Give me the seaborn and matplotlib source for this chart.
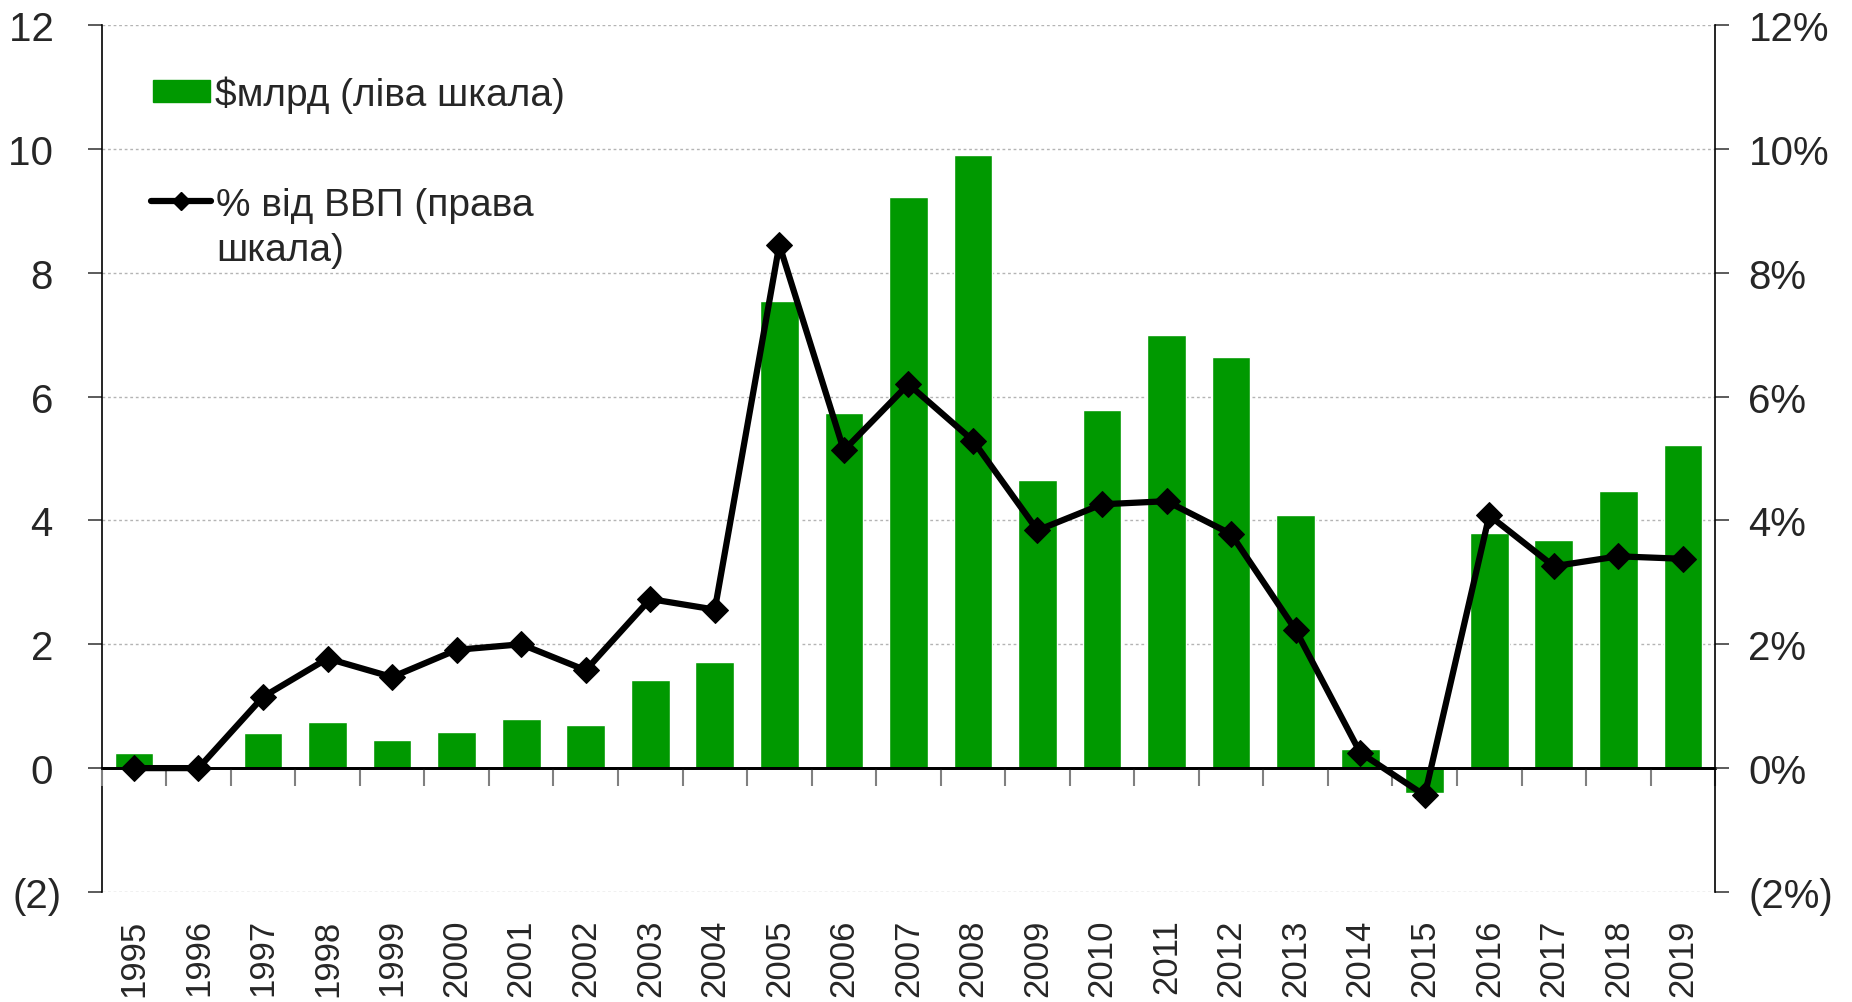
import numpy as np
import pandas as pd
import matplotlib
matplotlib.use("Agg")
import matplotlib.pyplot as plt
import seaborn as sns
from matplotlib.lines import Line2D
from matplotlib.patches import Patch

# data
years = ["1995", "1996", "1997", "1998", "1999", "2000", "2001", "2002", "2003",
         "2004", "2005", "2006", "2007", "2008", "2009", "2010", "2011", "2012",
         "2013", "2014", "2015", "2016", "2017", "2018", "2019"]
fdi_bln = [0.25, 0.0, 0.57, 0.74, 0.46, 0.59, 0.80, 0.69, 1.43, 1.72, 7.54, 5.74,
           9.22, 9.90, 4.66, 5.78, 7.00, 6.64, 4.08, 0.31, -0.40, 3.80, 3.68, 4.47, 5.21]
fdi_gdp = [0.0, 0.0, 1.15, 1.77, 1.47, 1.91, 2.00, 1.58, 2.73, 2.56, 8.45, 5.13,
           6.20, 5.29, 3.84, 4.26, 4.31, 3.78, 2.23, 0.25, -0.44, 4.08, 3.26, 3.42, 3.38]
yticks = [-2, 0, 2, 4, 6, 8, 10, 12]

bar_label = "$млрд (ліва шкала)"
line_label = ["% від ВВП (права", "шкала)"]

green = "#009900"

sns.set_style("white")
plt.rcParams["font.family"] = ["Liberation Sans", "DejaVu Sans"]

df = pd.DataFrame({"year": years, "bln": fdi_bln, "gdp": fdi_gdp})
df["pos"] = np.arange(len(df))

fig = plt.figure(figsize=(18.52, 10.03), dpi=100)
ax = fig.add_axes([0.0549, 0.1097, 0.8712, 0.8644])

sns.barplot(data=df, x="year", y="bln", color=green, saturation=1, width=0.6, ax=ax)
ax.set_xlim(-0.5, len(years) - 0.5)
ax.set_ylim(yticks[0], yticks[-1])
ax.set_xlabel("")
ax.set_ylabel("")

# left axis
ax.set_yticks(yticks)
ax.set_yticklabels([f"({abs(v)})" if v < 0 else f"{v}\u2009" for v in yticks])
ax.tick_params(axis="y", direction="out", length=10, width=1.2, color="#404040",
               pad=19, labelsize=29)
ax.set_xticks(df["pos"])
ax.set_xticklabels(years, rotation=90, va="top", ha="center")
ax.tick_params(axis="x", length=0, pad=19, labelsize=25)
ax.set_axisbelow(True)
ax.yaxis.grid(True, color="#b4b4b4", linestyle=(0, (2, 2)), linewidth=1)
ax.xaxis.grid(False)
for s in ["top", "bottom", "right"]:
    ax.spines[s].set_visible(False)
ax.spines["left"].set_color("black")
ax.spines["left"].set_linewidth(1.2)

# zero line with category boundary ticks
zero_pos = (0 - yticks[0]) / (yticks[-1] - yticks[0])
sec = ax.secondary_xaxis(zero_pos)
sec.set_zorder(5)
sec.set_xticks(np.arange(len(years) + 1) - 0.5)
sec.tick_params(axis="x", direction="out", length=13, width=1.5, color="#808080",
                labelbottom=False, labeltop=False)
sec.spines["bottom"].set_color("black")
sec.spines["bottom"].set_linewidth(2)
ax.axhline(0, color="black", linewidth=2, zorder=4)

# right axis with % of GDP
ax2 = ax.twinx()
sns.lineplot(data=df, x="pos", y="gdp", color="black", linewidth=4.5, marker="D",
             markersize=13, markeredgecolor="black", ax=ax2)
ax2.set_ylim(yticks[0], yticks[-1])
ax2.set_xlim(-0.5, len(years) - 0.5)
ax2.set_xlabel("")
ax2.set_ylabel("")
ax2.set_yticks(yticks)
ax2.set_yticklabels([f"({abs(v)}%)" if v < 0 else f"{v}%" for v in yticks])
ax2.tick_params(axis="y", direction="out", length=10, width=1.2, color="#404040",
                pad=14, labelsize=29)
for s in ["top", "bottom", "left"]:
    ax2.spines[s].set_visible(False)
ax2.spines["right"].set_color("black")
ax2.spines["right"].set_linewidth(1.2)

# legend
fs = 28
leg1 = ax2.legend([Patch(color=green)], [bar_label], loc="upper left",
                  bbox_to_anchor=(153 / 1852, 1 - 76 / 1003), bbox_transform=fig.transFigure,
                  frameon=False, fontsize=fs, handlelength=1.47, handleheight=0.5,
                  handletextpad=0.13, borderpad=0, borderaxespad=0)
ax2.add_artist(leg1)
h_line = Line2D([], [], color="black", linewidth=4.5, marker="D", markersize=9)
h_blank = Line2D([], [], color="none")
ax2.legend([h_line, h_blank], line_label, loc="upper left",
           bbox_to_anchor=(151 / 1852, 1 - 188 / 1003), bbox_transform=fig.transFigure,
           frameon=False, fontsize=fs, handlelength=1.55, handletextpad=0.13,
           borderpad=0, borderaxespad=0, labelspacing=0.23)

fig.savefig("out.png", dpi=100)
